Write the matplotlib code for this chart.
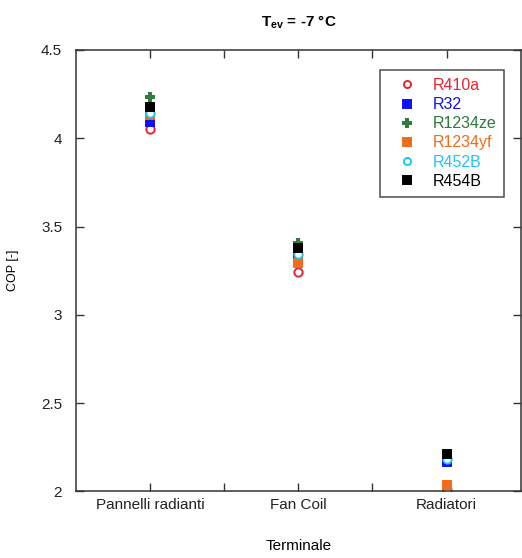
import matplotlib
matplotlib.use("Agg")
from matplotlib import pyplot as plt

plt.rcParams['font.family'] = ['Liberation Sans', 'DejaVu Sans']
plt.rcParams['mathtext.fontset'] = 'custom'
plt.rcParams['mathtext.rm'] = 'Liberation Sans'
plt.rcParams['mathtext.bf'] = 'Liberation Sans:bold'

terminals = ['Pannelli radianti', 'Fan Coil', 'Radiatori']
x_pos = [1, 3, 5]

refrigerants = ['R410a', 'R32', 'R1234ze', 'R1234yf', 'R452B', 'R454B']
r410a = [4.05, 3.245, 2.01]
r32 = [4.09, 3.324, 2.169]
r1234ze = [4.234, 3.409, 1.90]
r1234yf = [4.13, 3.292, 2.037]
r452b = [4.143, 3.343, 2.182]
r454b = [4.178, 3.377, 2.212]
values = [r410a, r32, r1234ze, r1234yf, r452b, r454b]

colors = ['#e8242c', '#1010f0', '#2c7a3a', '#f26a1b', '#22c4f2', '#000000']
markers = ['o', 's', 'P', 's', 'o', 's']
filled = [False, True, False, True, False, True]

fig = plt.figure(figsize=(5.22, 5.58), dpi=100)
ax = fig.add_axes([0.1456, 0.1192, 0.852, 0.7912])

for name, vals, c, m, f in zip(refrigerants, values, colors, markers, filled):
    ax.plot(x_pos, vals, linestyle='none', marker=m, markersize=6,
            markerfacecolor=c if f else 'white', markeredgecolor=c,
            markeredgewidth=1.4, label=name)

ax.set_xlim(0, 6)
ax.set_ylim(2, 4.5)
ax.set_xticks([1, 2, 3, 4, 5])
ax.set_xticklabels([terminals[0], '', terminals[1], '', terminals[2]])
ax.set_yticks([2, 2.5, 3, 3.5, 4, 4.5])
ax.set_yticklabels(['2', '2.5', '3', '3.5', '4', '4.5'])
ax.tick_params(direction='in', top=True, right=True, length=6, width=1,
               labelsize=11, colors='#333333', labelcolor='#222222')
ax.tick_params(axis='y', pad=10)
ax.tick_params(axis='x', pad=5)
for s in ax.spines.values():
    s.set_color('#333333')
    s.set_linewidth(1.1)

ax.set_xlabel('Terminale', fontsize=11, labelpad=19)
ax.set_ylabel('COP [-]', fontsize=9, labelpad=16)
ax.set_title(r'$\mathbf{T_{ev}}$ = -7 °C', fontsize=11, fontweight='bold', pad=17)

leg = ax.legend(loc='upper right', bbox_to_anchor=(0.9655, 0.8746),
                bbox_transform=fig.transFigure, fontsize=11.5, fancybox=False,
                edgecolor='#222222', handlelength=2.4, handletextpad=0.4,
                labelspacing=0.26, borderpad=0.5, borderaxespad=0,
                markerscale=0.85)
leg.get_frame().set_linewidth(1.1)
for t, c in zip(leg.get_texts(), colors):
    t.set_color(c)

fig.savefig('out.png', dpi=100)
